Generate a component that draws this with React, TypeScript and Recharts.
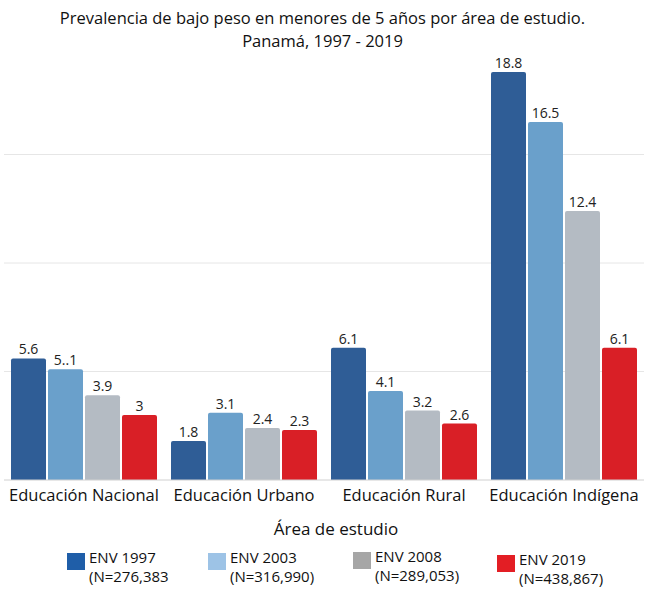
import { BarChart, Bar, XAxis, YAxis, CartesianGrid, LabelList, Label } from 'recharts';

const categories = ['Educación Nacional', 'Educación Urbano', 'Educación Rural', 'Educación Indígena'];
const env1997 = [5.6, 1.8, 6.1, 18.8];
const env2003 = [5.1, 3.1, 4.1, 16.5];
const env2008 = [3.9, 2.4, 3.2, 12.4];
const env2019 = [3, 2.3, 2.6, 6.1];
// the source image prints "5..1" over the first 2003 bar
const labels2003 = ['5..1', '3.1', '4.1', '16.5'];
const seriesNames = ['ENV 1997', 'ENV 2003', 'ENV 2008', 'ENV 2019'];
const seriesN = ['(N=276,383', '(N=316,990)', '(N=289,053)', '(N=438,867)'];
const yTicks = [0, 5, 10, 15, 20];

const barColors = ['#2f5d96', '#6aa0cb', '#b4bbc3', '#d91f26'];
const legendColors = ['#1f5ea8', '#9dc3e6', '#a6a6a6', '#e31e24'];
const FONT = '"Open Sans", sans-serif';

const data = categories.map((c, i) => ({
    name: c,
    v1997: env1997[i],
    v2003: env2003[i],
    v2008: env2008[i],
    v2019: env2019[i],
    l2003: labels2003[i],
}));

const keys = ['v1997', 'v2003', 'v2008', 'v2019'];

export default function App() {
    return (
        <div style={{ position: 'absolute', left: 0, top: 0, width: 645, height: 592, background: '#fff', fontFamily: FONT }}>
            <div style={{ position: 'absolute', top: 6, left: 0, width: 645, textAlign: 'center', fontSize: 16.5, lineHeight: '23px', color: '#111' }}>
                Prevalencia de bajo peso en menores de 5 años por área de estudio.
                <br />
                Panamá, 1997 - 2019
            </div>
            <BarChart
                width={645}
                height={592}
                data={data}
                margin={{ top: 46, right: 1, left: 4, bottom: 0 }}
                barGap={2}
                barCategoryGap={7}
            >
                <CartesianGrid vertical={false} stroke="#e6e6e6" horizontalValues={[5, 10, 15]} />
                <YAxis hide domain={[0, 20]} ticks={yTicks} />
                <XAxis
                    dataKey="name"
                    height={112}
                    tickLine={false}
                    tickSize={0}
                    tickMargin={9}
                    axisLine={{ stroke: '#d0d0d0' }}
                    tick={{ fill: '#111', fontSize: 16.5, fontFamily: FONT }}
                    interval={0}
                >
                    <Label
                        value="Área de estudio"
                        position="insideTop"
                        offset={43}
                        dx={12}
                        fill="#111"
                        fontSize={17}
                        fontFamily={FONT}
                    />
                </XAxis>
                {keys.map((k, i) => (
                    <Bar key={k} dataKey={k} fill={barColors[i]} radius={[2, 2, 0, 0]} isAnimationActive={false}>
                        <LabelList
                            dataKey={k === 'v2003' ? 'l2003' : k}
                            position="top"
                            offset={4}
                            fill="#222"
                            fontSize={14}
                            fontFamily={FONT}
                        />
                    </Bar>
                ))}
            </BarChart>
            {seriesNames.map((s, i) => (
                <div
                    key={s}
                    style={{
                        position: 'absolute',
                        left: [67, 208, 353, 497][i],
                        top: [548, 548, 547, 550][i],
                        display: 'flex',
                        gap: 4,
                        fontSize: 15,
                        lineHeight: '19px',
                        color: '#111',
                    }}
                >
                    <div style={{ width: 18, height: 17, background: legendColors[i], marginTop: 5 }} />
                    <div>
                        {s}
                        <br />
                        {seriesN[i]}
                    </div>
                </div>
            ))}
        </div>
    );
}
